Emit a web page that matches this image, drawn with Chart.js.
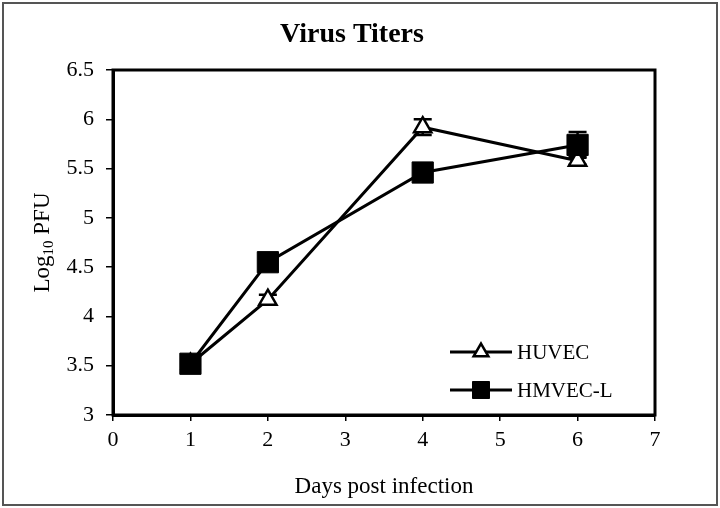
<!DOCTYPE html>
<html>
<head>
<meta charset="utf-8">
<script src="https://cdn.jsdelivr.net/npm/chart.js@4/dist/chart.umd.min.js"></script>
<style>
html,body{margin:0;padding:0;background:#fff;}
#wrap{width:720px;height:508px;position:relative;}
</style>
</head>
<body>
<div id="wrap"><canvas id="c" width="720" height="508"></canvas></div>
<script>
// ---- data ----
const days = [1, 2, 4, 6];
const huvec = [3.52, 4.17, 5.92, 5.58];
const huvecErr = [0, 0.05, 0.08, 0.04];
const hmvec = [3.52, 4.55, 5.46, 5.74];
const hmvecErr = [0, 0, 0, 0.13];
const xTickLabels = ['0', '1', '2', '3', '4', '5', '6', '7'];
const yTickLabels = ['3', '3.5', '4', '4.5', '5', '5.5', '6', '6.5'];
const seriesNames = ['HUVEC', 'HMVEC-L'];

const SERIF = '"Liberation Serif", "Times New Roman", serif';

const frameAndBorder = {
  id: 'frameAndBorder',
  beforeDraw(chart) {
    const ctx = chart.ctx;
    ctx.save();
    ctx.fillStyle = '#fff';
    ctx.fillRect(0, 0, chart.width, chart.height);
    ctx.strokeStyle = '#555';
    ctx.lineWidth = 2;
    ctx.strokeRect(3, 3, chart.width - 6, chart.height - 6);
    ctx.restore();
  },
  afterDraw(chart) {
    const a = chart.chartArea, ctx = chart.ctx;
    ctx.save();
    ctx.strokeStyle = '#000';
    ctx.lineWidth = 3;
    ctx.strokeRect(a.left, a.top, a.right - a.left, a.bottom - a.top);
    ctx.restore();
  }
};

const errorBars = {
  id: 'errorBars',
  beforeDatasetsDraw(chart) {
    const ctx = chart.ctx, xs = chart.scales.x, ys = chart.scales.y;
    const errs = [huvecErr, hmvecErr];
    const vals = [huvec, hmvec];
    ctx.save();
    ctx.strokeStyle = '#000';
    ctx.lineWidth = 2.5;
    errs.forEach((e, s) => {
      days.forEach((d, i) => {
        if (!e[i]) return;
        const px = xs.getPixelForValue(d);
        const y1 = ys.getPixelForValue(vals[s][i] + e[i]);
        const y2 = ys.getPixelForValue(vals[s][i] - e[i]);
        ctx.beginPath();
        ctx.moveTo(px, y1); ctx.lineTo(px, y2);
        ctx.moveTo(px - 9, y1); ctx.lineTo(px + 9, y1);
        ctx.moveTo(px - 9, y2); ctx.lineTo(px + 9, y2);
        ctx.stroke();
      });
    });
    ctx.restore();
  }
};

const legendBox = {
  id: 'legendBox',
  afterDraw(chart) {
    const ctx = chart.ctx;
    const a = chart.chartArea;
    const lx = a.right - 205, ly0 = a.bottom - 63, gap = 38;
    ctx.save();
    chart.data.datasets.forEach((ds, i) => {
      const y = ly0 + i * gap;
      ctx.strokeStyle = '#000';
      ctx.lineWidth = 3;
      ctx.beginPath(); ctx.moveTo(lx, y); ctx.lineTo(lx + 62, y); ctx.stroke();
      ctx.fillStyle = ds.pointBackgroundColor;
      ctx.strokeStyle = ds.pointBorderColor;
      ctx.lineWidth = ds.pointBorderWidth;
      Chart.helpers.drawPoint(ctx, {pointStyle: ds.pointStyle, radius: i === 0 ? 8.5 : 12, borderWidth: ds.pointBorderWidth, rotation: 0}, lx + 31, y);
      ctx.fillStyle = '#000';
      ctx.font = '21px ' + SERIF;
      ctx.textBaseline = 'middle';
      ctx.fillText(ds.label, lx + 67, y + 1);
    });
    ctx.restore();
  }
};

const yTitle = {
  id: 'yTitle',
  afterDraw(chart) {
    const ctx = chart.ctx, a = chart.chartArea;
    ctx.save();
    ctx.fillStyle = '#000';
    ctx.translate(42, (a.top + a.bottom) / 2);
    ctx.rotate(-Math.PI / 2);
    ctx.textBaseline = 'alphabetic';
    const big = '23px ' + SERIF, small = '15px ' + SERIF;
    ctx.font = big; const w1 = ctx.measureText('Log').width;
    ctx.font = small; const w2 = ctx.measureText('10').width;
    ctx.font = big; const w3 = ctx.measureText(' PFU').width;
    let x = -(w1 + w2 + w3) / 2;
    const base = 7;
    ctx.font = big; ctx.fillText('Log', x, base); x += w1;
    ctx.font = small; ctx.fillText('10', x, base + 4); x += w2;
    ctx.font = big; ctx.fillText(' PFU', x, base);
    ctx.restore();
  }
};

new Chart(document.getElementById('c'), {
  type: 'line',
  data: {
    datasets: [
      {
        label: seriesNames[0],
        data: days.map((d, i) => ({x: d, y: huvec[i]})),
        borderColor: '#000', borderWidth: 3,
        pointStyle: 'triangle', pointRadius: 10,
        pointBackgroundColor: '#fff', pointBorderColor: '#000', pointBorderWidth: 2.5,
        fill: false, tension: 0, order: 2
      },
      {
        label: seriesNames[1],
        data: days.map((d, i) => ({x: d, y: hmvec[i]})),
        borderColor: '#000', borderWidth: 3,
        pointStyle: 'rect', pointRadius: 15,
        pointBackgroundColor: '#000', pointBorderColor: '#000', pointBorderWidth: 1,
        fill: false, tension: 0, order: 1
      }
    ]
  },
  options: {
    responsive: false,
    animation: false,
    devicePixelRatio: 1,
    layout: {padding: {left: 49, right: 65, top: 0, bottom: 0}},
    plugins: {
      legend: {display: false},
      tooltip: {enabled: false},
      title: {
        display: true,
        text: 'Virus Titers',
        color: '#000',
        font: {family: SERIF, size: 28, weight: 'bold', lineHeight: 1.2},
        padding: {top: 18, bottom: 18.4}
      }
    },
    scales: {
      x: {
        type: 'linear', min: 0, max: 7,
        afterFit(s) { s.height = 93; s.paddingLeft = 0; s.paddingRight = 0; },
        border: {display: true, color: '#000', width: 3},
        grid: {display: true, drawOnChartArea: false, drawTicks: true, tickLength: 6, color: '#000', lineWidth: 1.5},
        ticks: {
          stepSize: 1, padding: 6, color: '#000', maxRotation: 0,
          font: {family: SERIF, size: 22},
          callback: (v) => xTickLabels[v] !== undefined ? xTickLabels[v] : ''
        },
        title: {
          display: true, text: 'Days post infection', color: '#000',
          font: {family: SERIF, size: 23, lineHeight: 1.2},
          padding: {top: 0, bottom: 7}
        }
      },
      y: {
        type: 'linear', min: 3, max: 6.5,
        afterFit(s) { s.width = 64; s.paddingTop = 0; s.paddingBottom = 0; },
        border: {display: true, color: '#000', width: 3},
        grid: {display: true, drawOnChartArea: false, drawTicks: true, tickLength: 7, color: '#000', lineWidth: 1.5},
        ticks: {
          stepSize: 0.5, padding: 12, color: '#000',
          font: {family: SERIF, size: 22},
          callback: (v) => { const i = Math.round((v - 3) / 0.5); return yTickLabels[i] !== undefined ? yTickLabels[i] : ''; }
        }
      }
    }
  },
  plugins: [frameAndBorder, errorBars, legendBox, yTitle]
});
</script>
</body>
</html>
